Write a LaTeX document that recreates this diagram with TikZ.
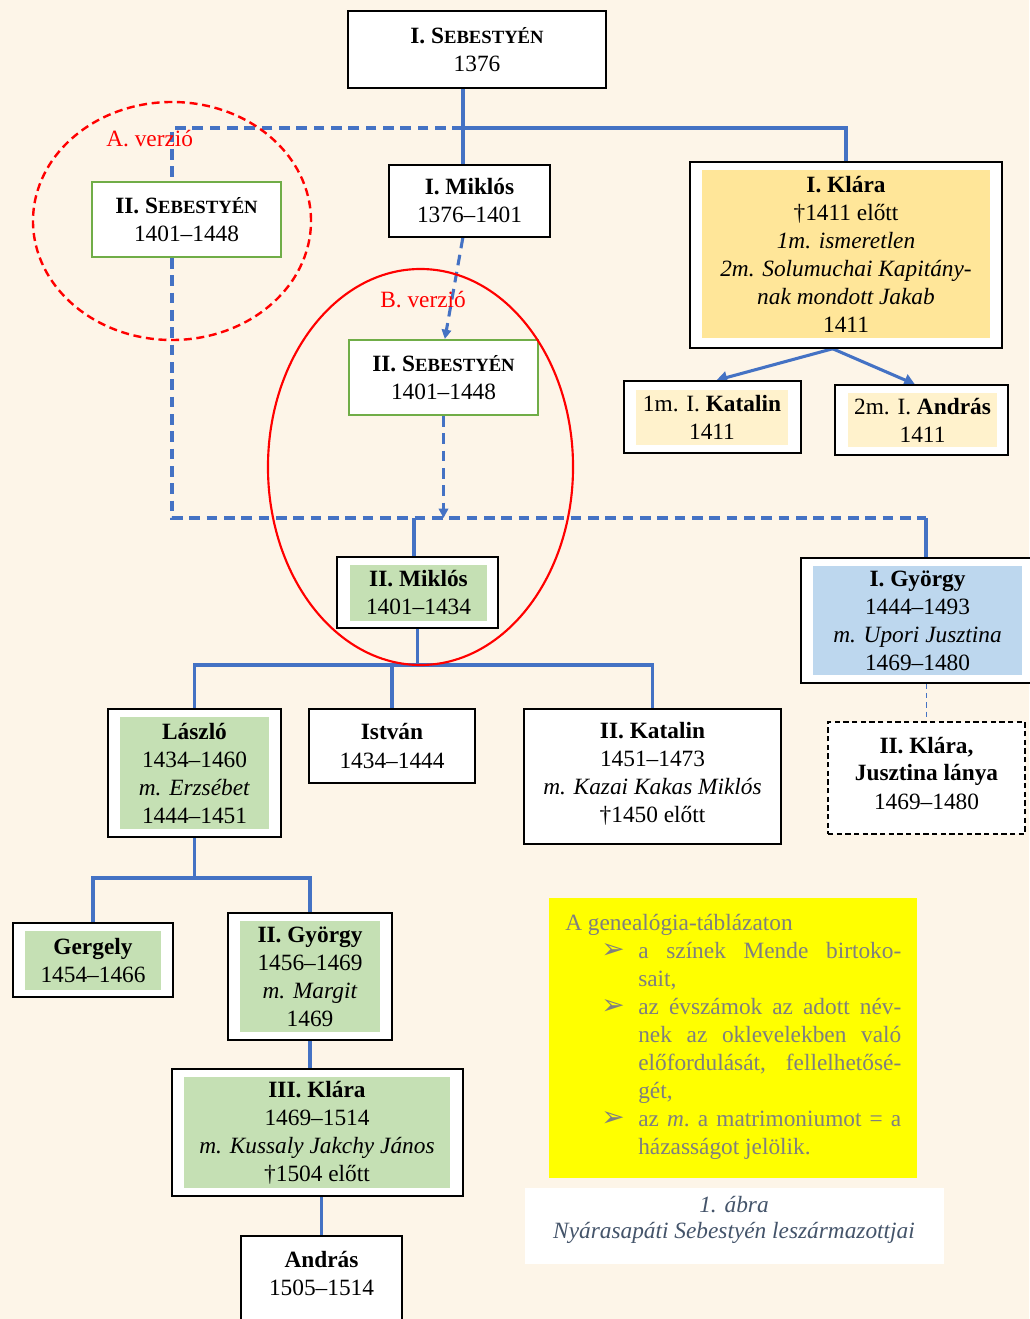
\documentclass[tikz,border=0pt]{standalone}
\usepackage{fontspec}
\setmainfont{Liberation Serif}
\newfontfamily\dejavu{DejaVu Sans}
\usetikzlibrary{arrows.meta,fit}
\definecolor{bgc}{HTML}{FDF5E8}
\definecolor{blu}{HTML}{4472C4}
\definecolor{grn}{HTML}{70AD47}
\definecolor{kfill}{HTML}{FFE699}
\definecolor{pfill}{HTML}{FFF2CC}
\definecolor{gfill}{HTML}{C5E0B4}
\definecolor{bfill}{HTML}{BDD7EE}
\definecolor{lgray}{HTML}{7F7F7F}
\definecolor{capc}{HTML}{44546A}
\definecolor{yel}{HTML}{FFFF00}
\newcommand\nf{\fontsize{17.5}{21}\selectfont}
\newcommand\fsc[1]{{\fontsize{14}{21}\selectfont #1}}
\newcommand\jl[1]{\hbox to 197.25pt{\frenchspacing\spaceskip=0.25em plus 1fil minus 0.12em\relax #1}}
\newcommand\bul{{\dejavu\fontsize{21}{21}\selectfont ➢}}
\pgfdeclarelayer{bg}
\pgfsetlayers{bg,main}
\begin{document}
\begin{tikzpicture}[x=0.75pt,y=-0.75pt,
  obox/.style={draw=black, line width=1.1pt, fill=white, inner sep=0pt},
  gbox/.style={obox, draw=grn, line width=1.5pt},
  dbox/.style={obox, dash pattern=on 4pt off 2.5pt},
  fbox/.style={inner sep=0pt},
  txt/.style={inner sep=0pt, font=\nf, align=center},
  conn/.style={draw=blu, line width=2.3pt},
  dconn/.style={conn, dash pattern=on 8pt off 5pt},
  tip/.style={-{Triangle[length=7pt,width=7pt]}},
  lg/.style={text=lgray, font=\nf, inner sep=0pt, anchor=base west},
  bl/.style={text=lgray, inner sep=0pt, anchor=west},
  redt/.style={text=red, font=\nf, inner sep=0pt, anchor=base west},
  capt/.style={text=capc, font=\nf\itshape, inner sep=0pt, anchor=base}]
\useasboundingbox (0,0) rectangle (1029,1319);

% boxes
\node[obox, fit={(348,11)(606,88)}] (seb1) {};
\node[txt] at (seb1) {\textbf{I. S\fsc{EBESTYÉN}}\\1376};
\node[gbox, fit={(92,182)(281,257)}] (sebA) {};
\node[txt] at (sebA) {\textbf{II. S\fsc{EBESTYÉN}}\\1401–1448};
\node[obox, fit={(389,165)(550,237)}] (miklos1) {};
\node[txt] at (miklos1) {\textbf{I. Miklós}\\1376–1401};
\node[obox, fit={(690,162)(1002,348)}] (klara1) {};
\node[fbox, fill=kfill, fit={(702,170)(990,338)}] (klara1i) {};
\node[txt] at (klara1i) {\textbf{I. Klára}\\†1411 előtt\\\textit{1m. ismeretlen}\\\textit{2m. Solumuchai Kapitány-}\\\textit{nak mondott Jakab}\\1411};
\node[gbox, fit={(349,340)(538,415)}] (sebB) {};
\node[txt] at (sebB) {\textbf{II. S\fsc{EBESTYÉN}}\\1401–1448};
\node[obox, fit={(624,381)(801,453)}] (kat1) {};
\node[fbox, fill=pfill, fit={(636,390)(788,445)}] (kat1i) {};
\node[txt] at (kat1i) {1m. I. \textbf{Katalin}\\1411};
\node[obox, fit={(835,385)(1008,455)}] (andr1) {};
\node[fbox, fill=pfill, fit={(848,393)(997,447)}] (andr1i) {};
\node[txt] at (andr1i) {2m. I. \textbf{András}\\1411};
\node[obox, fit={(337,557)(498,628)}] (miklos2) {};
\node[fbox, fill=gfill, fit={(350,565)(487,621)}] (miklos2i) {};
\node[txt] at (miklos2i) {\textbf{II. Miklós}\\1401–1434};
\node[obox, fit={(801,558)(1040,683)}] (gy1) {};
\node[fbox, fill=bfill, fit={(813,566)(1022,675)}] (gy1i) {};
\node[txt] at (gy1i) {\textbf{I. György}\\1444–1493\\\textit{m. Upori Jusztina}\\1469–1480};
\node[dbox, fit={(828,722)(1025,834)}] (klara2) {};
\node[txt] at (926.5,773) {\textbf{II. Klára,}\\\textbf{Jusztina lánya}\\1469–1480};
\node[obox, fit={(108,709)(281,837)}] (laszlo) {};
\node[fbox, fill=gfill, fit={(120,717)(269,829)}] (laszloi) {};
\node[txt] at (laszloi) {\textbf{László}\\1434–1460\\\textit{m. Erzsébet}\\1444–1451};
\node[obox, fit={(309,709)(475,783)}] (istvan) {};
\node[txt] at (istvan) {\textbf{István}\\1434–1444};
\node[obox, fit={(524,709)(781,844)}] (katal2) {};
\node[txt] at (652.5,774) {\textbf{II. Katalin}\\1451–1473\\\textit{m. Kazai Kakas Miklós}\\†1450 előtt};
\node[obox, fit={(13,923)(173,997)}] (gergely) {};
\node[fbox, fill=gfill, fit={(25,931)(161,990)}] (gergelyi) {};
\node[txt] at (gergelyi) {\textbf{Gergely}\\1454–1466};
\node[obox, fit={(228,913)(392,1040)}] (gyorgy2) {};
\node[fbox, fill=gfill, fit={(240,921)(380,1032)}] (gyorgy2i) {};
\node[txt] at (gyorgy2i) {\textbf{II. György}\\1456–1469\\\textit{m. Margit}\\1469};
\node[obox, fit={(172,1069)(463,1196)}] (klara3) {};
\node[fbox, fill=gfill, fit={(184,1077)(450,1188)}] (klara3i) {};
\node[txt] at (klara3i) {\textbf{III. Klára}\\1469–1514\\\textit{m. Kussaly Jakchy János}\\†1504 előtt};
\node[obox, fit={(241,1236)(402,1345)}] (andras3) {};
\node[txt] at (321.5,1273) {\textbf{András}\\1505–1514};

% legend
\node[fill=yel, inner sep=0pt, fit={(549,898)(917,1178)}] (legend) {};
\node[lg] at (565,930) {A genealógia-táblázaton};
\node[bl] at (601,951) {\bul};
\node[lg] at (638,958) {\jl{a színek Mende birtoko-}};
\node[lg] at (638,986) {sait,};
\node[bl] at (601,1007) {\bul};
\node[lg] at (638,1014) {\jl{az évszámok az adott név-}};
\node[lg] at (638,1042) {\jl{nek az oklevelekben való}};
\node[lg] at (638,1070) {\jl{előfordulását, fellelhetősé-}};
\node[lg] at (638,1098) {gét,};
\node[bl] at (601,1119) {\bul};
\node[lg] at (638,1126) {\jl{az \textit{m}. a matrimoniumot = a}};
\node[lg] at (638,1154) {házasságot jelölik.};

% caption
\node[fill=white, inner sep=0pt, fit={(525,1188)(944,1264)}] (caption) {};
\node[capt] at (734,1212) {1. ábra};
\node[capt] at (734,1238) {Nyárasapáti Sebestyén leszármazottjai};

% connectors
\begin{pgfonlayer}{bg}
\fill[bgc] (0,0) rectangle (1029,1319);
\coordinate (j1) at (463,128);
\coordinate (jA) at (172,128);
\coordinate (j2) at (172,518);
\coordinate (j3) at (926,518);
\coordinate (j4) at (414,518);
\coordinate (h1) at (415,665);
\coordinate (h2) at (193,878);
\draw[conn] (j1 |- seb1.south) -- (j1 |- miklos1.north);
\draw[conn] (j1) -| (klara1.north);
\draw[dconn] (j1) -- (jA) -- (jA |- sebA.north);
\draw[dconn] (jA |- sebA.south) -- (j2) -- (j3);
\draw[conn] (j3) -- (j3 |- gy1.north);
\draw[conn] (j4) -- (j4 |- miklos2.north);
\draw[dconn, tip] ([xshift=-5pt]miklos1.south) -- ([xshift=1pt]sebB.north);
\draw[dconn, tip] (sebB.south) -- (sebB.south |- j2);
\draw[conn] (miklos2.south) -- (miklos2.south |- h1);
\draw[conn] (laszlo.north) -- (laszlo.north |- h1) -- (katal2.north |- h1) -- (katal2.north);
\draw[conn] (istvan.north) -- (istvan.north |- h1);
\draw[conn, -{Triangle[length=8pt,width=9pt]}] ([xshift=-10pt]klara1.south) -- ([xshift=3pt]kat1.north);
\draw[conn, -{Triangle[length=8pt,width=9pt]}] ([xshift=-10pt]klara1.south) -- ([xshift=-5pt]andr1.north);
\draw[conn, line width=1.2pt, dash pattern=on 4pt off 3pt] (klara2.north |- gy1.south) -- (klara2.north);
\draw[conn] (laszlo.south) -- (laszlo.south |- h2);
\draw[conn] (gergely.north) -- (gergely.north |- h2) -- (gyorgy2.north |- h2) -- (gyorgy2.north);
\draw[conn] (gyorgy2.south) -- (gyorgy2.south |- klara3.north);
\draw[conn] (andras3.north |- klara3.south) -- (andras3.north);
\end{pgfonlayer}

% version ellipses
\draw[red, line width=1.8pt, dash pattern=on 6pt off 3.5pt] (172,221) ellipse [x radius=104.25pt, y radius=89.25pt];
\draw[red, line width=1.6pt] (420.5,467) ellipse [x radius=114.4pt, y radius=148.5pt];
\node[redt] at (106,147) {A. verzió};
\node[redt] at (380,307) {B. verzió};
\end{tikzpicture}
\end{document}
